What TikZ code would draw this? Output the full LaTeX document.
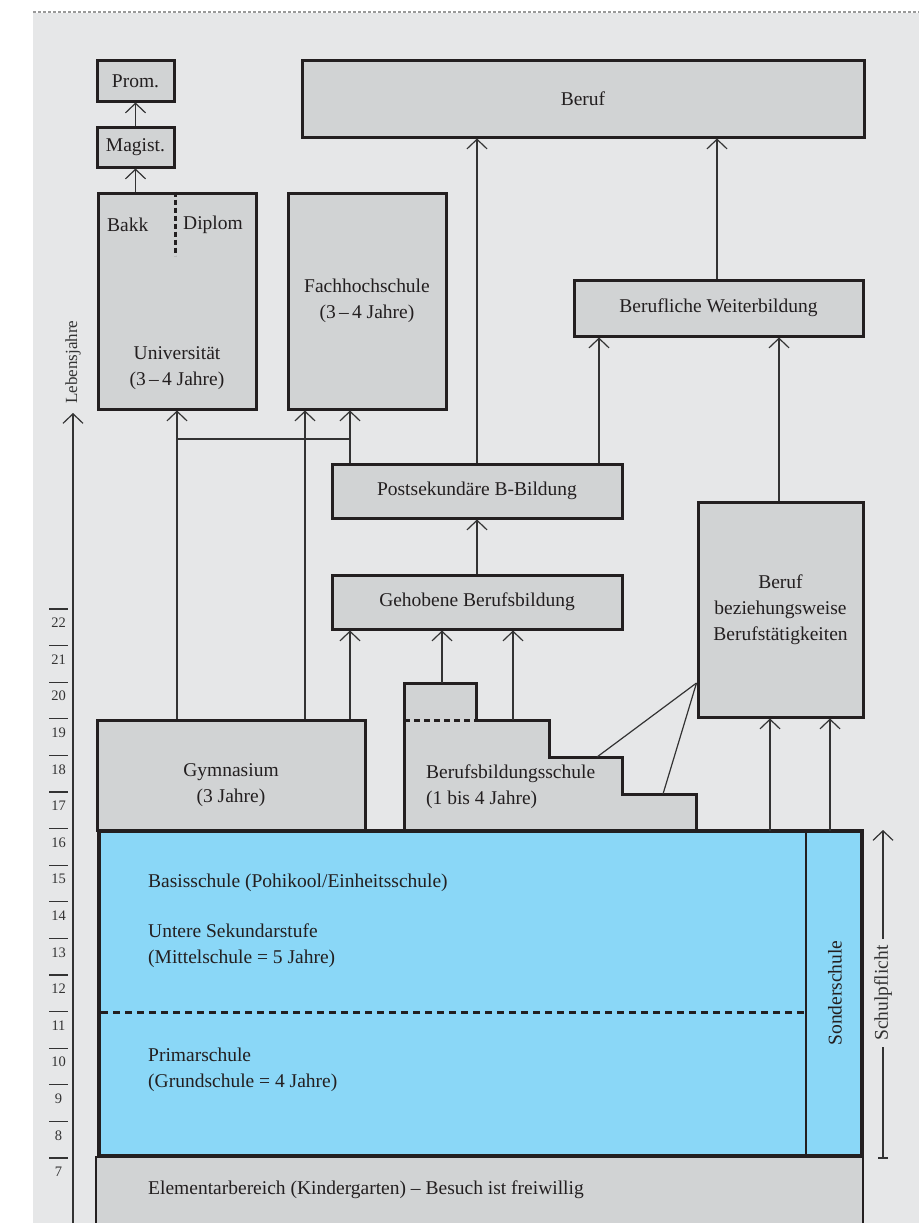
\documentclass[tikz,border=0pt]{standalone}
\usepackage{fontspec}
\setmainfont{Liberation Serif}
\usetikzlibrary{arrows.meta}
\definecolor{bgc}{HTML}{E6E7E8}
\definecolor{boxfill}{HTML}{D1D3D4}
\definecolor{edgec}{HTML}{231F20}
\definecolor{schoolblue}{HTML}{8AD7F7}
\definecolor{linec}{HTML}{333333}
\newcommand\mfs{\fontsize{19.5}{26}\selectfont}
\newcommand\nfs{\fontsize{14.5}{16}\selectfont}
\tikzset{
  box/.style={draw=edgec, fill=boxfill, line width=3pt, inner sep=0pt, align=center, font=\mfs, text=edgec},
  lbl/.style={inner sep=0pt, align=center, font=\mfs, text=edgec},
  lbll/.style={inner sep=0pt, align=left, anchor=west, font=\mfs, text=edgec},
  conn/.style={draw=linec, line width=1.2pt},
  arr/.style={conn, -{Straight Barb[length=9.5pt,width=20pt,line width=1.2pt]}},
  tick/.style={draw=linec, line width=1.1pt},
  num/.style={inner sep=0pt, font=\nfs, text=linec},
  dashline/.style={edgec, line width=3pt, dash pattern=on 6pt off 4pt}
}
\begin{document}
\begin{tikzpicture}[x=1pt,y=-1pt]
\useasboundingbox (0,0) rectangle (919,1223);
\fill[white] (0,0) rectangle (919,1223);
\fill[bgc] (33,13) rectangle (919,1223);
\draw[gray!80, line width=1.3pt, dash pattern=on 3pt off 2pt] (33,12) -- (919,12);

% helper coordinates
\coordinate (x305) at (305,0);
\coordinate (x350) at (350,0);
\coordinate (x442) at (442,0);
\coordinate (x513) at (513,0);
\coordinate (x599) at (599,0);
\coordinate (x717) at (717,0);
\coordinate (x770) at (770,0);
\coordinate (x779) at (779,0);
\coordinate (x830) at (830,0);
\coordinate (y439) at (0,439);

% top boxes
\node[box, minimum width=77pt, minimum height=40pt] (prom) at (135.5,81) {Prom.};
\node[box, minimum width=77pt, minimum height=40pt] (magist) at (135.5,147) {Magist.};
\node[box, minimum width=158pt, minimum height=216pt] (uni) at (177,301) {};
\node[lbl] (unitxt) at (177,368) {Universität\\(3\,–\,4 Jahre)};
\node[lbll] (bakk) at (107,225) {Bakk};
\node[lbll] (diplom) at (183,225) {Diplom};
\draw[dashline, dash pattern=on 5pt off 3pt] (uni.north) ++(-2,0) coordinate (dtop) -- ++(0,64);
\node[box, minimum width=158pt, minimum height=216pt] (fh) at (367,301) {Fachhochschule\\(3\,–\,4 Jahre)};
\node[box, minimum width=562pt, minimum height=76pt] (beruf) at (583,99) {Beruf};
\node[box, minimum width=289pt, minimum height=56pt] (bwb) at (718.5,308) {Berufliche Weiterbildung};
\node[box, minimum width=290pt, minimum height=54pt] (post) at (477,491) {Postsekundäre B-Bildung};
\node[box, minimum width=290pt, minimum height=54pt] (geh) at (477,602) {Gehobene Berufsbildung};
\node[box, minimum width=165pt, minimum height=215pt] (bbt) at (780.5,609.5) {Beruf\\beziehungsweise\\Berufstätigkeiten};

% Elementarbereich
\draw[draw=edgec, fill=boxfill, line width=1.6pt] (96,1157) rectangle (863,1240);
\node[lbll] (elem) at (148,1190) {Elementarbereich (Kindergarten) – Besuch ist freiwillig};

% Gymnasium
\node[box, minimum width=268pt, minimum height=110pt] (gym) at (231,775) {};
\node[lbl] (gymtxt) at (231,785) {Gymnasium\\(3 Jahre)};

% Berufsbildungsschule stepped shape
\draw[draw=edgec, fill=boxfill, line width=3pt, line join=miter]
  (404,832) -- (404,683) coordinate (bs1) -- (476,683) -- (476,720) coordinate (bs2) -- (549,720) -- (549,757)
  -- (622,757) -- (622,794) -- (696,794) -- (696,832);
\draw[dashline] (bs1 |- bs2) -- (bs2);
\node[lbll] (bstxt) at (426,787) {Berufsbildungsschule\\(1 bis 4 Jahre)};
\coordinate (bsA) at (597,757);
\coordinate (bsB) at (663,794);

% Basisschule
\draw[draw=edgec, fill=schoolblue, line width=4.5pt] (99,831) rectangle (862,1156);
\coordinate (blueTop) at (480,831);
\draw[edgec, line width=2.8pt] (806,831) -- (806,1156);
\draw[dashline, dash pattern=on 7pt off 5pt] (101,1012) -- (806,1012);
\node[lbll] (basis) at (148,883) {Basisschule (Pohikool/Einheitsschule)};
\node[lbll] (unter) at (148,946) {Untere Sekundarstufe\\(Mittelschule = 5 Jahre)};
\node[lbll] (primar) at (148,1070) {Primarschule\\(Grundschule = 4 Jahre)};
\node[lbl, rotate=90] (sonder) at (835,993) {Sonderschule};

% connectors
\draw[arr] (uni.north -| magist.south) -- (magist.south);
\draw[arr] (magist.north) -- (prom.south);
\draw[arr] (gym.north -| uni.south) -- (uni.south);
\draw[arr] (gym.north -| x305) -- (fh.south -| x305);
\draw[arr] (gym.north -| x350) -- (geh.south -| x350);
\draw[arr] (post.north -| x350) -- (fh.south -| x350);
\draw[conn] (uni.south |- y439) -- (x350 |- y439);
\draw[arr] (post.north) -- (beruf.south -| post.north);
\draw[arr] (post.north -| x599) -- (bwb.south -| x599);
\draw[arr] (bwb.north -| x717) -- (beruf.south -| x717);
\draw[arr] (bbt.north -| x779) -- (bwb.south -| x779);
\draw[arr] (geh.north) -- (post.south);
\draw[arr] (bs1 -| x442) -- (geh.south -| x442);
\draw[arr] (bs2 -| x513) -- (geh.south -| x513);
\draw[arr] (blueTop -| x770) -- (bbt.south -| x770);
\draw[arr] (blueTop -| x830) -- (bbt.south -| x830);
\coordinate (bbtL) at (bbt.west |- 0,683);
\draw[conn] (bbtL) -- (bsA);
\draw[conn] (bbtL) -- (bsB);

% Lebensjahre axis
\coordinate (axbot) at (73,1223);
\coordinate (axtop) at (73,413);
\draw[arr] (axbot) -- (axtop);
\node[inner sep=0pt, rotate=90, font=\fontsize{17}{20}\selectfont, text=linec] (leb) at (73,362) {Lebensjahre};
\foreach \i in {0,...,15} {
  \pgfmathsetmacro{\yy}{609+36.6*\i}
  \pgfmathtruncatemacro{\age}{22-\i}
  \draw[tick] (49,\yy) -- (68,\yy);
  \node[num] (age\age) at (58.5,\yy+14) {\age};
}

% Schulpflicht
\node[lbl, rotate=90, text=linec] (pflicht) at (883,993) {Schulpflicht};
\coordinate (spbot) at (883,1158);
\coordinate (sptop) at (883,830);
\draw[conn, shorten >=6pt] (spbot) -- (pflicht.west);
\draw[arr, shorten <=6pt] (pflicht.east) -- (sptop);
\draw[conn] ([xshift=-5pt]spbot) -- ([xshift=5pt]spbot);
\end{tikzpicture}
\end{document}
